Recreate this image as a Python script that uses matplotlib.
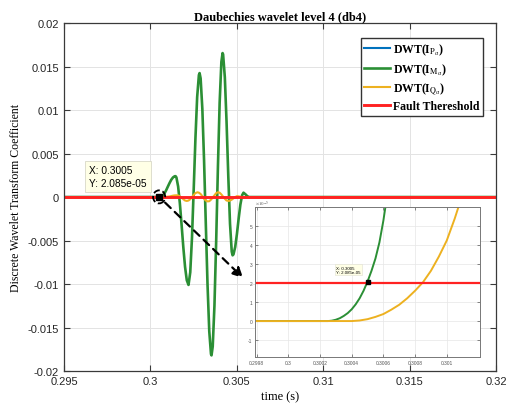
import matplotlib
matplotlib.use("Agg")
import matplotlib.pyplot as plt
from matplotlib.patches import Ellipse

plt.rcParams["mathtext.fontset"] = "stix"
plt.rcParams["font.family"] = "Liberation Sans"

# time axis (s) and wavelet coefficients, db4 level 4
t_green = [0.295, 0.2998, 0.3002, 0.300250, 0.300275, 0.300300, 0.300325, 0.300350,
           0.300375, 0.300400, 0.300425, 0.300450, 0.300475, 0.300500, 0.300525,
           0.300550, 0.300575, 0.300600, 0.300625, 0.300650,
           0.3007, 0.3008, 0.3009, 0.3010, 0.3011, 0.3012, 0.3013, 0.3014, 0.30145,
           0.3015, 0.3016, 0.3017, 0.3018, 0.3019, 0.3020, 0.3021, 0.3022,
           0.3023, 0.3024, 0.3025, 0.3026, 0.3027, 0.3028, 0.30284,
           0.3029, 0.3030, 0.3031, 0.3032, 0.3033, 0.3034, 0.3035, 0.30353,
           0.3036, 0.3037, 0.3038, 0.3039, 0.3040, 0.3041, 0.30417,
           0.3042, 0.3043, 0.3044, 0.3045, 0.3046, 0.3047, 0.30475,
           0.3048, 0.3049, 0.3050, 0.3051, 0.3052, 0.3053, 0.30538,
           0.3055, 0.3056, 0.3057, 0.32]
dwt_m = [0.0, 0.0, 0.0, 0.0, 0.02e-5, 0.07e-5, 0.15e-5, 0.27e-5,
         0.42e-5, 0.62e-5, 0.88e-5, 1.20e-5, 1.60e-5, 2.085e-5, 2.65e-5,
         3.30e-5, 4.15e-5, 5.30e-5, 6.70e-5, 8.50e-5,
         0.00014, 0.00038, 0.00075, 0.00118, 0.00160, 0.00198, 0.00225, 0.00239, 0.0024,
         0.00226, 0.00121, -0.00073, -0.0032, -0.00578, -0.00803, -0.00956, -0.0101,
         -0.00866, -0.0047, 0.00088, 0.00673, 0.01149, 0.01402, 0.01425,
         0.01365, 0.01013, 0.00416, -0.00308, -0.01009, -0.01543, -0.01805, -0.0182,
         -0.01718, -0.01248, -0.00505, 0.0034, 0.01083, 0.01553, 0.01655,
         0.0164, 0.01378, 0.00863, 0.00241, -0.00307, -0.00628, -0.0067,
         -0.00659, -0.00574, -0.00424, -0.00247, -0.00086, 0.00021, 0.0005,
         0.0003, 0.0001, 0.0, 0.0]

t_yellow = [0.295, 0.2998, 0.300400, 0.300450, 0.300500, 0.300550, 0.300600, 0.300650,
            0.300700, 0.300750, 0.300800, 0.300850, 0.300900, 0.300950, 0.301000,
            0.301050, 0.301100, 0.3012, 0.3013, 0.3014, 0.3015, 0.3016, 0.3017,
            0.3018, 0.3019, 0.3020, 0.3021, 0.3022, 0.3023, 0.3024, 0.3025, 0.3026,
            0.30272, 0.3028, 0.3029, 0.3030, 0.3031, 0.3032, 0.3033, 0.3034, 0.3035,
            0.3036, 0.3037, 0.3038, 0.3039, 0.3040, 0.3041, 0.3042, 0.3043, 0.3044,
            0.30455, 0.3047, 0.3048, 0.3049, 0.3050, 0.3051, 0.3052, 0.3053, 0.32]
dwt_q = [0.0, 0.0, 0.0, 0.03e-5, 0.10e-5, 0.22e-5, 0.37e-5, 0.60e-5,
         0.86e-5, 1.20e-5, 1.60e-5, 2.05e-5, 2.65e-5, 3.40e-5, 4.25e-5,
         5.40e-5, 6.70e-5, 0.00011, 0.00016, 0.00019, 0.0002, 0.00018, 0.00008,
         -0.00008, -0.00025, -0.0004, -0.00045, -0.0004, -0.00025, 0.0, 0.00025, 0.00045,
         0.00055, 0.0005, 0.00035, 0.0001, -0.0002, -0.0004, -0.0005, -0.00048, -0.0003,
         -0.00005, 0.0002, 0.00045, 0.00055, 0.0005, 0.0003, 0.00005, -0.0002, -0.0004,
         -0.00045, -0.0003, -0.00015, 0.0, 0.0001, 0.00008, 0.00003, 0.0, 0.0]

t_blue = [0.295, 0.3002]
dwt_p = [0.0, 0.0]

t_thr = [0.295, 0.32]
threshold = [2e-5, 2e-5]

tip_x, tip_y = 0.3005, 2.085e-05

xticks = [0.295, 0.3, 0.305, 0.31, 0.315, 0.32]
xticklabels = ["0.295", "0.3", "0.305", "0.31", "0.315", "0.32"]
yticks = [-0.02, -0.015, -0.01, -0.005, 0, 0.005, 0.01, 0.015, 0.02]
yticklabels = ["-0.02", "-0.015", "-0.01", "-0.005", "0", "0.005", "0.01", "0.015", "0.02"]

in_xticks = [0.2998, 0.3, 0.3002, 0.3004, 0.3006, 0.3008, 0.301]
in_xticklabels = ["0.2998", "0.3", "0.3002", "0.3004", "0.3006", "0.3008", "0.301"]
in_yticks = [-1e-5, 0, 1e-5, 2e-5, 3e-5, 4e-5, 5e-5]
in_yticklabels = ["-1", "0", "1", "2", "3", "4", "5"]

c_blue = "#0072BD"
c_green = "#2b8f35"
c_yellow = "#EDB120"
c_red = "#FF2222"
c_axis = "#3a3a3a"

fig = plt.figure(figsize=(5.08, 4.06), dpi=100)
ax = fig.add_axes([0.126, 0.0837, 0.851, 0.857])

ax.plot(t_blue, dwt_p, color=c_blue, lw=1.5, label=r"DWT(I$_{\mathrm{P}_{\alpha}}$)")
ax.plot(t_green, dwt_m, color=c_green, lw=1.9, label=r"DWT(I$_{\mathrm{M}_{\alpha}}$)")
ax.plot(t_yellow, dwt_q, color=c_yellow, lw=1.5, label=r"DWT(I$_{\mathrm{Q}_{\alpha}}$)")
ax.plot(t_thr, threshold, color=c_red, lw=2.1, label="Fault Thereshold")

ax.set_xlim(0.295, 0.32)
ax.set_ylim(-0.02, 0.02)
ax.set_xticks(xticks)
ax.set_xticklabels(xticklabels)
ax.set_yticks(yticks)
ax.set_yticklabels(yticklabels)
ax.tick_params(direction="in", top=True, right=True, length=4, width=0.8,
               labelsize=8, colors=c_axis, labelcolor="#262626")
for sp in ax.spines.values():
    sp.set_color(c_axis)
    sp.set_linewidth(0.9)
ax.grid(True, color="#e3e3e3", lw=0.7)
ax.set_axisbelow(True)

ax.set_title("Daubechies wavelet level 4 (db4)", family="Liberation Serif",
             fontweight="bold", fontsize=9, pad=3)
ax.set_xlabel("time (s)", family="Liberation Serif", fontsize=9, labelpad=3)
ax.set_ylabel("Discrete Wavelet Transform Coefficient", family="Liberation Serif",
              fontsize=8.5, labelpad=4)

leg = ax.legend(loc="upper right", bbox_to_anchor=(0.982, 0.974), fancybox=False,
                framealpha=1, edgecolor="#333333", borderpad=0.3, labelspacing=0.35,
                handlelength=2.2, handletextpad=0.2,
                prop={"family": "Liberation Serif", "weight": "bold", "size": 8.5})
leg.get_frame().set_linewidth(1.0)

# data tip on the onset of the M-phase coefficient
ax.plot([tip_x], [tip_y], "s", color="black", ms=5, zorder=6)
ax.add_patch(Ellipse((tip_x, tip_y), 0.0007, 0.0015, fill=False, ls="--",
                     lw=1.3, ec="black", zorder=6))
ax.text(0.29647, 0.00235, "X: 0.3005\nY: 2.085e-05", fontsize=7.3,
        va="center", ha="left", linespacing=1.35, zorder=7,
        bbox=dict(boxstyle="square,pad=0.4", fc="#ffffe6", ec="#d8d8c8", lw=0.6))
ax.annotate("", xy=(0.30536, -0.0093), xytext=(tip_x, tip_y),
            arrowprops=dict(arrowstyle="-|>,head_length=0.6,head_width=0.3",
                            ls=(0, (3.5, 2.5)), lw=1.6, color="black",
                            shrinkA=6, shrinkB=0), zorder=6)

# zoomed view around the threshold crossing
axin = fig.add_axes([0.502, 0.118, 0.443, 0.369])
axin.plot(t_blue, dwt_p, color=c_blue, lw=1.2)
axin.plot(t_green, dwt_m, color=c_green, lw=1.4)
axin.plot(t_yellow, dwt_q, color=c_yellow, lw=1.4)
axin.plot(t_thr, threshold, color=c_red, lw=1.6)
axin.plot([tip_x], [tip_y], "s", color="black", ms=2.5, zorder=5)
axin.text(0.30030, 2.7e-5, "X: 0.3005\nY: 2.085e-05", fontsize=3.2,
          va="center", ha="left", linespacing=1.2, zorder=6,
          bbox=dict(boxstyle="square,pad=0.3", fc="#ffffe6", ec="#e0e0d0", lw=0.4))
axin.set_xlim(0.29979, 0.30121)
axin.set_ylim(-1.9e-5, 6e-5)
axin.set_xticks(in_xticks)
axin.set_xticklabels(in_xticklabels)
axin.set_yticks(in_yticks)
axin.set_yticklabels(in_yticklabels)
axin.tick_params(direction="in", labelsize=3.5, length=2, width=0.5, pad=2,
                 colors="#555555", top=True, right=True)
axin.grid(True, color="#e6e6e6", lw=0.5)
axin.set_axisbelow(True)
for sp in axin.spines.values():
    sp.set_color("#777777")
    sp.set_linewidth(0.7)
axin.text(0.0, 1.005, r"$\times10^{-5}$", transform=axin.transAxes, fontsize=3.5,
          color="#555555", ha="left", va="bottom")

fig.savefig("out.png", dpi=100)
